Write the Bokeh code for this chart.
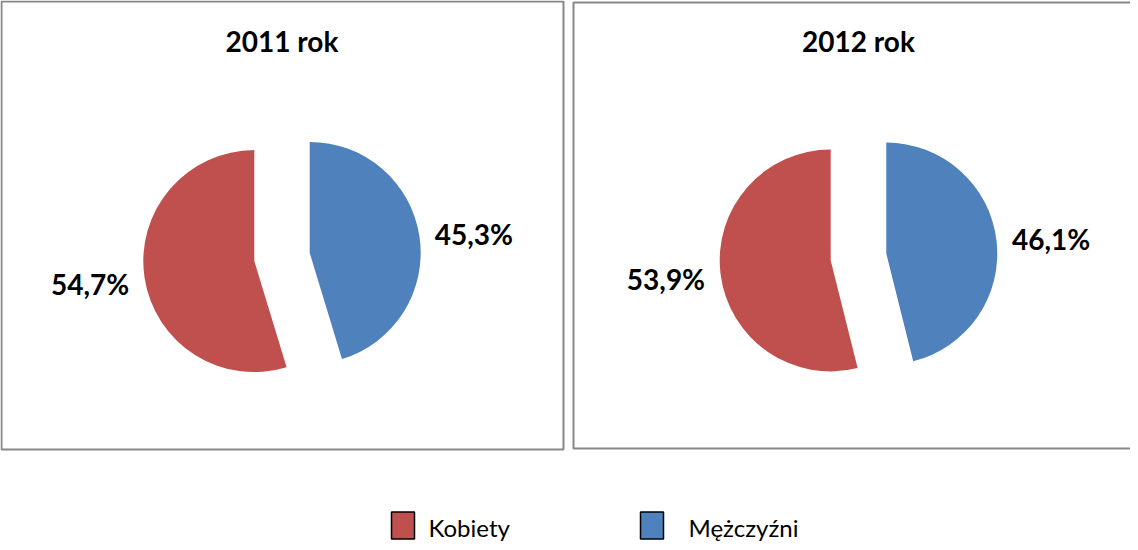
import math
from bokeh.plotting import figure
from bokeh.models import Range1d
from bokeh.core.properties import value
from bokeh.embed import file_html
from bokeh.resources import INLINE

# ---- data ----
years = ["2011 rok", "2012 rok"]
categories = ["Kobiety", "Mężczyźni"]
kobiety = [54.7, 53.9]
mezczyzni = [45.3, 46.1]
colors = {"Kobiety": "#C0504D", "Mężczyźni": "#4F81BD"}

W, H = 1130, 542
FONT = "Lato"


def X(sx):
    return sx - 8


def Y(sy):
    return H - (sy - 8)


p = figure(width=W, height=H, output_backend="svg", toolbar_location=None,
           x_range=Range1d(0, W), y_range=Range1d(0, H), min_border=0,
           background_fill_color="white", border_fill_color="white")
p.axis.visible = False
p.xgrid.visible = False
p.ygrid.visible = False
p.outline_line_color = None

# panel borders
p.quad(left=[X(9), X(581)], right=[X(571), X(1200)], top=[Y(9), Y(10)],
       bottom=[Y(457), Y(456)], fill_color=None, line_color="#878787", line_width=2)

centers = [(289.5, 264.5), (866.0, 264.5)]
R = 111
EXPL = 28
LABEL_R = 194
LABEL_DY = {"Mężczyźni": 5.5, "Kobiety": -2.0}   # screen px, down positive

for i, yr in enumerate(years):
    cx, cy = X(centers[i][0]), Y(centers[i][1])
    fb = mezczyzni[i] / 100.0
    # blue slice: clockwise from 12 o'clock
    b_start = math.pi / 2 - 2 * math.pi * fb
    b_end = math.pi / 2
    b_mid = (b_start + b_end) / 2
    # red slice: rest
    r_start = math.pi / 2
    r_end = b_start + 2 * math.pi
    r_mid = (r_start + r_end) / 2
    for start, end, mid, cat, val in [
        (b_start, b_end, b_mid, "Mężczyźni", mezczyzni[i]),
        (r_start, r_end, r_mid, "Kobiety", kobiety[i]),
    ]:
        ox = cx + EXPL * math.cos(mid)
        oy = cy + EXPL * math.sin(mid)
        p.wedge(x=[ox], y=[oy], radius=R, start_angle=start, end_angle=end,
                direction="anticlock", fill_color=colors[cat], line_color=None)
        lx = cx + LABEL_R * math.cos(mid)
        ly = cy + LABEL_R * math.sin(mid) - LABEL_DY[cat]
        p.text(x=[lx], y=[ly], text=[("%.1f%%" % val).replace(".", ",")],
               text_font=value(FONT), text_font_style="bold", text_font_size="28px",
               text_align="center", text_baseline="middle", text_color="black")
    p.text(x=[cx], y=[Y(48)], text=[yr], text_font=value(FONT),
           text_font_style="bold", text_font_size="28px", text_align="center",
           text_baseline="middle", text_color="black")

# legend
leg_x = [410.5, 659.5]
leg_tx = [436, 696]
for cat, lx, tx in zip(categories, leg_x, leg_tx):
    p.rect(x=[X(lx)], y=[Y(533)], width=23, height=27, fill_color=colors[cat],
           line_color="black", line_width=1.5)
    p.text(x=[X(tx)], y=[Y(535)], text=[cat], text_font=value(FONT),
           text_font_size="24px", text_align="left", text_baseline="middle",
           text_color="black")

open("out.html", "w").write(file_html(p, INLINE))
